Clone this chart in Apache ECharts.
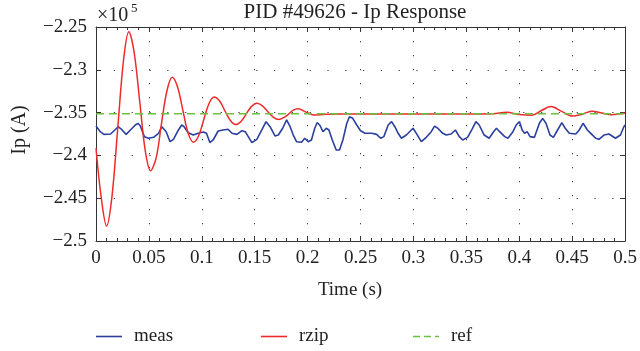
<!DOCTYPE html>
<html>
<head>
<meta charset="utf-8">
<script src="https://cdn.jsdelivr.net/npm/echarts@6/dist/echarts.min.js"></script>
<style>html,body{margin:0;padding:0;background:#fff}#c{width:640px;height:351px}</style>
</head>
<body>
<div id="c"></div>
<script>
// values in units of 1e5 A
const measT = [0,0.004,0.0075,0.0138,0.0185,0.021,0.0247,0.0285,0.0325,0.0372,0.0396,0.0419,0.0457,0.0497,0.0544,0.0591,0.0622,0.0638,0.0663,0.07,0.0732,0.0779,0.081,0.0832,0.0872,0.0919,0.0966,0.1013,0.1044,0.1076,0.1107,0.1154,0.12,0.1248,
0.1285,0.1332,0.1379,0.141,0.1473,0.152,0.1567,0.1607,0.1645,0.1691,0.1723,0.1764,0.1801,0.1832,0.1864,0.1895,0.1942,0.1973,0.2005,0.2036,0.2067,0.2089,0.2114,0.2145,0.2176,0.2201,0.2233,0.227,0.2301,0.2333,0.237,0.2395,0.2426,0.2464,0.25,
0.2542,0.2605,0.2652,0.269,0.272,0.2761,0.2793,0.2824,0.2855,0.2886,0.2933,0.2996,0.3027,0.3074,0.3121,0.3168,0.3199,0.323,0.3277,0.3309,0.3356,0.3396,0.3433,0.3465,0.3511,0.3558,0.359,0.3621,0.3668,0.3715,0.3757,
0.3784,0.3815,0.3862,0.3893,0.394,0.3971,0.4002,0.4027,0.405,0.4074,0.4102,0.4143,0.419,0.4221,0.4252,0.429,0.4322,0.4362,0.4402,0.4434,0.4472,0.4534,0.4566,0.4603,0.4643,0.4675,0.4722,0.4753,0.48,0.4847,0.4909,0.4956,0.4988,0.5];
const measV = [-2.3657,-2.3723,-2.3754,-2.375,-2.3695,-2.3665,-2.3703,-2.3754,-2.3703,-2.3645,-2.3625,-2.3657,-2.3781,-2.38,-2.3789,-2.3742,-2.3665,-2.3645,-2.3723,-2.384,-2.3812,-2.3703,-2.3645,-2.3665,-2.3735,-2.3762,-2.3742,-2.3727,-2.3742,-2.385,-2.382,-2.3715,-2.3703,-2.3695,
-2.3742,-2.3754,-2.3711,-2.3723,-2.3851,-2.3812,-2.3703,-2.3606,-2.3665,-2.3773,-2.3762,-2.3683,-2.3586,-2.3657,-2.3762,-2.384,-2.3847,-2.38,-2.384,-2.382,-2.3683,-2.3618,-2.3645,-2.3723,-2.3683,-2.3703,-2.382,-2.3937,-2.3937,-2.382,-2.3625,-2.3548,-2.3567,-2.3645,-2.3712,
-2.3742,-2.3742,-2.3754,-2.38,-2.3781,-2.3645,-2.3606,-2.3665,-2.3742,-2.38,-2.3762,-2.3683,-2.3742,-2.384,-2.3789,-2.3723,-2.3657,-2.3683,-2.3742,-2.3762,-2.375,-2.3703,-2.3781,-2.382,-2.3789,-2.3683,-2.3606,-2.3645,-2.3762,-2.38,-2.3723,
-2.3683,-2.3723,-2.3781,-2.38,-2.3723,-2.3645,-2.3606,-2.3703,-2.3742,-2.3723,-2.3781,-2.3789,-2.3625,-2.3567,-2.3625,-2.3762,-2.3789,-2.3703,-2.3618,-2.3683,-2.3742,-2.375,-2.3703,-2.3625,-2.3703,-2.3742,-2.38,-2.3812,-2.3762,-2.375,-2.38,-2.3762,-2.3665,-2.3645];

const rzipT = [0,0.005,0.010,0.015,0.0205,0.026,0.031,0.036,0.0413,0.0465,0.0516,0.057,0.0618,0.067,0.072,0.077,0.082,0.087,0.092,0.097,0.1018,0.1067,0.1116,0.1168,0.1218,0.127,0.132,0.137,0.142,0.147,0.152,0.157,0.162,0.1675,0.1725,0.177,0.182,0.186,0.191,0.1985,0.206,0.215,0.23,0.26,0.3,0.35,0.375,0.388,0.40,0.412,0.421,0.43,0.44,0.45,0.459,0.4685,0.478,0.487,0.5];
const rzipV = [-2.3917,-2.450,-2.4825,-2.449,-2.369,-2.289,-2.2555,-2.2793,-2.3367,-2.3941,-2.4179,-2.4020,-2.3634,-2.3248,-2.3088,-2.3199,-2.3468,-2.3737,-2.3847,-2.3770,-2.3583,-2.3396,-2.3318,-2.3365,-2.3479,-2.3593,-2.3640,-2.3603,-2.3515,-2.3427,-2.339,-2.3418,-2.3485,-2.3552,-2.358,-2.3562,-2.3518,-2.3473,-2.3455,-2.3495,-2.3528,-2.3522,-2.3516,-2.3515,-2.3515,-2.3515,-2.3513,-2.3497,-2.3522,-2.353,-2.3475,-2.343,-2.3485,-2.354,-2.352,-2.3485,-2.3505,-2.3525,-2.3505];

const refT = [0, 0.5];
const refV = [-2.3512, -2.3512];

const xTicks = {min: 0, max: 0.5, step: 0.05};
const yTicks = {min: -2.5, max: -2.25, step: 0.05};

const FONT = 'Liberation Serif';
const zip = (a, b) => a.map((v, i) => [v, b[i]]);
const fmt = v => { const n = parseFloat(v.toFixed(4)); return (n < 0 ? '\u2212' : '') + String(Math.abs(n)); };

const chart = echarts.init(document.getElementById('c'), null, {renderer: 'canvas'});
const axisCol = '#333';
const baseX = {
  type: 'value', min: xTicks.min, max: xTicks.max, interval: xTicks.step,
  axisLine: {show: true, onZero: false, lineStyle: {color: axisCol, width: 1}},
  axisTick: {show: true, inside: true, length: 5, lineStyle: {color: axisCol}},
  minorTick: {show: true, splitNumber: 5, length: 3, lineStyle: {color: axisCol}},
};
const baseY = {
  type: 'value', min: yTicks.min, max: yTicks.max, interval: yTicks.step,
  axisLine: {show: true, onZero: false, lineStyle: {color: axisCol, width: 1}},
  axisTick: {show: true, inside: true, length: 5, lineStyle: {color: axisCol}},
};
const legText = {fontSize: 19, color: '#222', fontFamily: FONT, padding: [0, 0, 0, 7]};
const solidIcon = 'path://M0,0L26,0L26,1.6L0,1.6Z';
const dashIcon = 'path://M0,0L7,0L7,1.6L0,1.6ZM11,0L18,0L18,1.6L11,1.6ZM22,0L26,0L26,1.6L22,1.6Z';
chart.setOption({
  animation: false,
  backgroundColor: '#fff',
  textStyle: {fontFamily: FONT},
  grid: {left: 96, right: 11, top: 27, bottom: 110, containLabel: false},
  xAxis: [
    Object.assign({}, baseX, {
      position: 'bottom',
      axisLabel: {show: true, margin: 8, fontSize: 19, color: '#222', fontFamily: FONT, formatter: fmt},
      splitLine: {show: true, lineStyle: {color: '#444', width: 1, type: [1.3, 12.7]}}
    }),
    Object.assign({}, baseX, {
      position: 'top', axisLabel: {show: false}, splitLine: {show: false}
    })
  ],
  yAxis: [
    Object.assign({}, baseY, {
      position: 'left',
      axisLabel: {show: true, margin: 9, fontSize: 19, color: '#222', fontFamily: FONT, formatter: fmt},
      splitLine: {show: true, lineStyle: {color: '#444', width: 1, type: [1.3, 16.5]}}
    }),
    Object.assign({}, baseY, {
      position: 'right', axisLabel: {show: false}, splitLine: {show: false}
    })
  ],
  legend: [
    {id: 'lg0', data: [{name: 'meas', icon: solidIcon}], left: 96, top: 327, padding: 0, itemWidth: 26, itemHeight: 1.6, textStyle: legText},
    {id: 'lg1', data: [{name: 'rzip', icon: solidIcon}], left: 261, top: 327, padding: 0, itemWidth: 26, itemHeight: 1.6, textStyle: legText},
    {id: 'lg2', data: [{name: 'ref', icon: dashIcon}], left: 413, top: 327, padding: 0, itemWidth: 26, itemHeight: 1.6, textStyle: legText}
  ],
  series: [
    {name: 'meas', type: 'line', data: zip(measT, measV), symbol: 'none', smooth: false,
     lineStyle: {color: '#2b3f9e', width: 1.6}, itemStyle: {color: '#2b3f9e'}},
    {name: 'rzip', type: 'line', data: zip(rzipT, rzipV), symbol: 'none', smooth: 0.35,
     lineStyle: {color: '#ee2a2a', width: 1.5}, itemStyle: {color: '#ee2a2a'}},
    {name: 'ref', type: 'line', data: zip(refT, refV), symbol: 'none',
     lineStyle: {color: '#6cc040', width: 1.5, type: [8, 5]}, itemStyle: {color: '#6cc040'}}
  ],
  graphic: [
    {type: 'text', x: 355, y: 12, style: {text: 'PID #49626 - Ip Response', fontFamily: FONT, fontSize: 21, fill: '#222', align: 'center', verticalAlign: 'middle'}},
    {type: 'text', x: 97, y: 16, style: {text: '\u00d710', fontFamily: FONT, fontSize: 20, fill: '#222', align: 'left', verticalAlign: 'middle'}},
    {type: 'text', x: 131, y: 9, style: {text: '5', fontFamily: FONT, fontSize: 13, fill: '#222', align: 'left', verticalAlign: 'middle'}},
    {type: 'text', x: 350, y: 290, style: {text: 'Time (s)', fontFamily: FONT, fontSize: 19, fill: '#222', align: 'center', verticalAlign: 'middle'}},
    {type: 'text', x: 20, y: 130, rotation: Math.PI / 2, style: {text: 'Ip (A)', fontFamily: FONT, fontSize: 20, fill: '#222', align: 'center', verticalAlign: 'middle'}}
  ]
});
</script>
</body>
</html>
